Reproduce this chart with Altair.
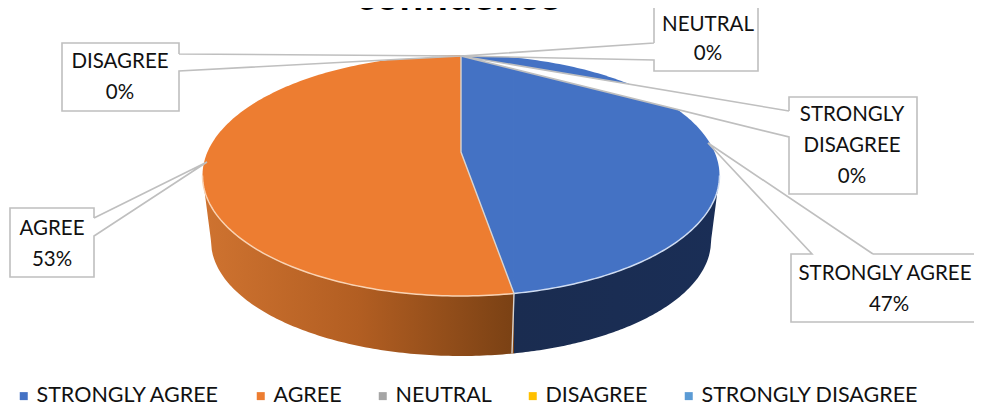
import math
import altair as alt
import pandas as pd
import numpy as np

# ---- chart values
categories = ["STRONGLY AGREE", "AGREE", "NEUTRAL", "DISAGREE", "STRONGLY DISAGREE"]
shares = [47.3, 52.7, 0, 0, 0]
colors = ["#4472C4", "#ED7D31", "#A5A5A5", "#FFC000", "#5B9BD5"]
title_text = "confidence"
FONT = "Lato"
GREY = "#bfbfbf"

# ---- perspective pie geometry
CX, APEX_Y, TOP_Y, BOT_Y = 461.0, 152.0, 55.0, 296.0
P = ((BOT_Y - APEX_Y) - (APEX_Y - TOP_Y)) / ((BOT_Y - APEX_Y) + (APEX_Y - TOP_Y))
H = (APEX_Y - TOP_Y) * (1 + P)
RX, RY = 258.5, (BOT_Y - TOP_Y) / 2
CY = (BOT_Y + TOP_Y) / 2
R = RX * math.sqrt(1 - P * P)
LOW_CY, LOW_RX, LOW_RY = 241.0, 250.0, 115.0


def project(share_pct):
    t = math.radians(share_pct * 3.6)
    u, v = math.sin(t), math.cos(t)
    return CX + R * u / (1 + P * v), APEX_Y - H * v / (1 + P * v)


FX, FY = project(shares[1])
FX = CX + abs(FX - CX)
FY = CY + RY * math.sqrt(1 - ((FX - CX) / RX) ** 2)


def half(x, cx, rx, ry):
    return ry * math.sqrt(max(0.0, 1 - ((x - cx) / rx) ** 2))


def top_up(x):
    return CY - half(x, CX, RX, RY)


def top_dn(x):
    return CY + half(x, CX, RX, RY)


def low_dn(x):
    return LOW_CY + half(x, CX, LOW_RX, LOW_RY)


def arc_xs(a, b, n=90):
    th = np.linspace(math.acos(np.clip((a - CX) / RX, -1, 1)), math.acos(np.clip((b - CX) / RX, -1, 1)), n)
    return [CX + RX * math.cos(q) for q in th]


def spoke(x):
    return APEX_Y + (FY - APEX_Y) * (x - CX) / (FX - CX)


# top faces, cut into vertical-section pieces
rows = []
L, Rt = CX - RX, CX + RX
for x in arc_xs(L, CX):
    rows.append(dict(name=categories[1], seg="o1", x=x, y=top_up(x), yb=top_dn(x)))
for x in np.linspace(CX, FX, 12):
    rows.append(dict(name=categories[1], seg="o2", x=x, y=spoke(x), yb=top_dn(x)))
for x in np.linspace(CX, FX, 12):
    rows.append(dict(name=categories[0], seg="b1", x=x, y=top_up(x), yb=spoke(x)))
for x in arc_xs(FX, Rt):
    rows.append(dict(name=categories[0], seg="b2", x=x, y=top_up(x), yb=top_dn(x)))
faces = pd.DataFrame(rows)


def side_rows(a, b):
    out = []
    for x in arc_xs(a, b, 120):
        if abs(x - CX) <= LOW_RX:
            yb = low_dn(x)
        else:
            frac = (abs(x - CX) - LOW_RX) / (RX - LOW_RX)
            yb = LOW_CY + (CY - LOW_CY) * frac
        out.append(dict(x=x, y=top_dn(x), yb=yb))
    return pd.DataFrame(out)


x_enc = alt.X("x:Q", scale=alt.Scale(domain=[8, 974], nice=False, zero=False), axis=None)
y_enc = alt.Y("y:Q", scale=alt.Scale(domain=[407, 8], nice=False, zero=False), axis=None)
y2_enc = alt.Y2("yb")


def grad(stops):
    return alt.Gradient(
        gradient="linear", x1=0, x2=1, y1=0, y2=0,
        stops=[alt.GradientStop(offset=o, color=c) for o, c in stops],
    )


orange_side = alt.Chart(side_rows(L, FX)).mark_area(
    fill=grad([(0, "#cf7330"), (0.5, "#b25e22"), (1, "#7a4114")])
).encode(x=x_enc, y=y_enc, y2=y2_enc)
blue_side = alt.Chart(side_rows(FX, Rt)).mark_area(
    fill=grad([(0, "#1a2c50"), (1, "#1a2e56")])
).encode(x=x_enc, y=y_enc, y2=y2_enc)

top = alt.Chart(faces).mark_area().encode(
    x=x_enc, y=y_enc, y2=y2_enc, detail="seg:N",
    color=alt.Color(
        "name:N",
        scale=alt.Scale(domain=categories, range=colors),
        legend=alt.Legend(
            title=None, orient="none", legendX=5, legendY=377, direction="horizontal",
            columns=5, gridAlign="each", symbolType="square", symbolSize=64, symbolStrokeWidth=0,
            labelFont=FONT, labelFontSize=21.5, labelColor="#111111", columnPadding=30,
            labelOffset=2, labelLimit=300,
        ),
    ),
)

# rim highlights and slice dividers
rim = pd.DataFrame([dict(x=x, y=top_dn(x), i=j) for j, x in enumerate(arc_xs(L, FX))])
rim_b = pd.DataFrame([dict(x=x, y=top_dn(x), i=j) for j, x in enumerate(arc_xs(FX, Rt))])
rim_line = alt.Chart(rim).mark_line(color="#f9d3b4", strokeWidth=1.5).encode(x=x_enc, y=y_enc, order="i:Q")
rim_line_b = alt.Chart(rim_b).mark_line(color="#cfdcf2", strokeWidth=1.5).encode(x=x_enc, y=y_enc, order="i:Q")
div = pd.DataFrame([
    dict(x=CX, y=TOP_Y, i=0), dict(x=CX, y=APEX_Y, i=1), dict(x=FX, y=FY, i=2),
    dict(x=FX - 2, y=LOW_CY + half(FX - 2, CX, LOW_RX, LOW_RY), i=3),
])
divider = alt.Chart(div).mark_line(color="#d9d4d0", strokeWidth=1.4).encode(x=x_enc, y=y_enc, order="i:Q")

# ---- callouts
callouts = [
    dict(key="NEUTRAL", box=(654, 0, 758, 71), tip=(461, 56), a=(654, 43), b=(654, 60), side="left"),
    dict(key="DISAGREE", box=(62, 43, 179, 111), tip=(461, 56), a=(179, 54), b=(179, 71), side="right"),
    dict(key="AGREE", box=(10, 208, 94, 277), tip=(207, 162), a=(94, 218), b=(94, 236), side="right"),
    dict(key="STRONGLY DISAGREE", box=(789, 97, 917, 194), tip=(461, 56), a=(789, 111), b=(789, 137), side="left"),
    dict(key="STRONGLY AGREE", box=(791, 254, 1000, 322), tip=(708, 143), a=(873, 254), b=(812, 254), side="top"),
]


def wedge_rows(tip, a, b, key):
    pts = [tip, a, b]
    xs = sorted(set(p[0] for p in pts))
    out = []
    edges = [(tip, a), (tip, b), (a, b)]
    for x in xs:
        ys = []
        for p, q in edges:
            lo, hi = min(p[0], q[0]), max(p[0], q[0])
            if lo <= x <= hi and hi > lo:
                ys.append(p[1] + (q[1] - p[1]) * (x - p[0]) / (q[0] - p[0]))
        if not ys:
            ys = [p[1] for p in pts if p[0] == x]
        out.append(dict(k=key, x=x, y=min(ys), yb=max(ys)))
    return out


wedges, outlines, boxes = [], [], []
for c in callouts:
    x0, y0, x1, y1 = c["box"]
    wedges += wedge_rows(c["tip"], c["a"], c["b"], c["key"])
    boxes.append(dict(k=c["key"], x=x0, xb=x1, y=y0, yb=y1))
    tip, a, b = c["tip"], c["a"], c["b"]
    if c["side"] == "left":
        path = [a, tip, b, (x0, y1), (x1, y1), (x1, y0), (x0, y0), a]
    elif c["side"] == "right":
        path = [a, tip, b, (x1, y1), (x0, y1), (x0, y0), (x1, y0), a]
    else:
        path = [a, tip, b, (x0, y0), (x0, y1), (x1, y1), (x1, y0), a]
    outlines += [dict(k=c["key"], x=p[0], y=p[1], i=n) for n, p in enumerate(path)]

wedge_fill = alt.Chart(pd.DataFrame(wedges)).mark_area(fill="white").encode(
    x=x_enc, y=y_enc, y2=y2_enc, detail="k:N"
)
box_fill = alt.Chart(pd.DataFrame(boxes)).mark_rect(fill="white").encode(
    x=x_enc, x2=alt.X2("xb"), y=y_enc, y2=y2_enc
)
outline = alt.Chart(pd.DataFrame(outlines)).mark_line(color=GREY, strokeWidth=1.6).encode(
    x=x_enc, y=y_enc, order="i:Q", detail="k:N"
)

pct = {n: f"{round(s)}%" for n, s in zip(categories, shares)}
label_rows = [
    dict(t="DISAGREE", x=120, y=62), dict(t=pct["DISAGREE"], x=120, y=93),
    dict(t="NEUTRAL", x=708, y=25), dict(t=pct["NEUTRAL"], x=708, y=54),
    dict(t="STRONGLY", x=852, y=115), dict(t="DISAGREE", x=852, y=146), dict(t=pct["STRONGLY DISAGREE"], x=852, y=177),
    dict(t="STRONGLY AGREE", x=885, y=274), dict(t=pct["STRONGLY AGREE"], x=889, y=305),
    dict(t="AGREE", x=52, y=229), dict(t=pct["AGREE"], x=52, y=260),
]
labels = alt.Chart(pd.DataFrame(label_rows)).mark_text(
    font=FONT, fontSize=20.5, color="#111111", align="center", baseline="middle"
).encode(x=x_enc, y=y_enc, text="t:N")

title = alt.Chart(pd.DataFrame([dict(t=title_text, x=458, y=10)])).mark_text(
    font=FONT, fontSize=42, fontWeight="bold", color="#000000", align="center", baseline="alphabetic"
).encode(x=x_enc, y=y_enc, text="t:N")

chart = alt.layer(
    orange_side, blue_side, top, rim_line, rim_line_b, divider,
    wedge_fill, box_fill, outline, labels, title,
).properties(
    width=966, height=399, padding=0, autosize=alt.AutoSizeParams(type="none"),
    background="white",
).configure_view(stroke=None)

chart.save("out.html", embed_options={"renderer": "svg", "actions": False})
